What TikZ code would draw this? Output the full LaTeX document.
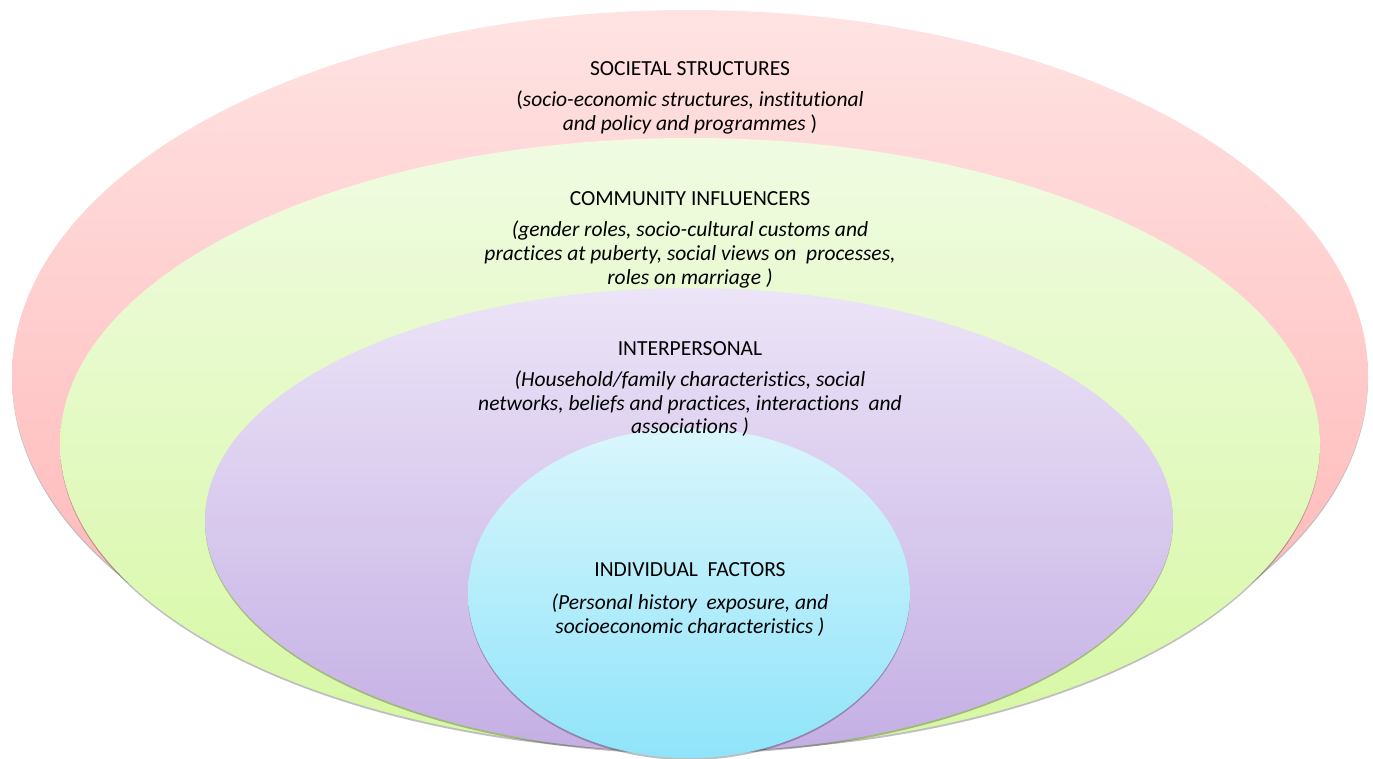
\documentclass[tikz,border=0pt]{standalone}
\usepackage{fontspec}
\setmainfont[Ligatures=NoCommon]{Carlito}
\usetikzlibrary{shapes.geometric}
\usetikzlibrary{shadows}
\usetikzlibrary{positioning}

\definecolor{societytop}{HTML}{FFE3E3}
\definecolor{societybot}{HTML}{FFB0B0}
\definecolor{communitytop}{HTML}{F0FBE2}
\definecolor{communitybot}{HTML}{D6F8A2}
\definecolor{interpertop}{HTML}{ECE4F7}
\definecolor{interperbot}{HTML}{C4AFE4}
\definecolor{individtop}{HTML}{DAF6FC}
\definecolor{individbot}{HTML}{8FE4FA}

\tikzset{
  layer/.style={ellipse, inner sep=0pt, draw=none,
    drop shadow={shadow xshift=0pt, shadow yshift=-2pt, opacity=0.25, fill=black}},
  heading/.style={font=\fontsize{21.5}{24}\selectfont, inner sep=0pt, anchor=base},
  detail/.style={font=\fontsize{21.5}{23.7}\selectfont\itshape, align=center,
    inner sep=0pt, anchor=north}
}

\begin{document}
\begin{tikzpicture}[x=1pt, y=-1pt]
  \useasboundingbox (0, 0) rectangle (1373, 758);

  % nested layers, outermost first
  \node[layer, minimum width=1356pt, minimum height=732pt,
    top color=societytop, bottom color=societybot] (society) at (690, 376) {};
  \node[layer, minimum width=1260pt, minimum height=612pt,
    top color=communitytop, bottom color=communitybot] (community) at (690, 444) {};
  \node[layer, minimum width=968pt, minimum height=464pt,
    top color=interpertop, bottom color=interperbot] (interper) at (689, 520) {};
  \node[layer, minimum width=442pt, minimum height=330pt,
    top color=individtop, bottom color=individbot] (individ) at (689, 593) {};

  % labels
  \node[heading] (societytitle) at (690, 75) {SOCIETAL STRUCTURES};
  \node[detail] (societytext) at (690, 90.5)
    {\textup{(}socio-economic structures, institutional\\
     and policy and programmes \textup{)}};

  \node[heading] (communitytitle) at (690, 205) {COMMUNITY INFLUENCERS};
  \node[detail] (communitytext) at (690, 221)
    {(gender roles, socio-cultural customs and\\
     practices at puberty, social views on\ \ processes,\\
     roles on marriage )};

  \node[heading] (interpertitle) at (690, 355) {INTERPERSONAL};
  \node[detail] (interpertext) at (690, 370.5)
    {(Household/family characteristics, social\\
     networks, beliefs and practices, interactions\ \ and\\
     associations )};

  \node[heading] (individtitle) at (690, 576) {INDIVIDUAL\ \ FACTORS};
  \node[detail] (individtext) at (690, 593.5)
    {(Personal history\ \ exposure, and\\
     socioeconomic characteristics )};
\end{tikzpicture}
\end{document}
